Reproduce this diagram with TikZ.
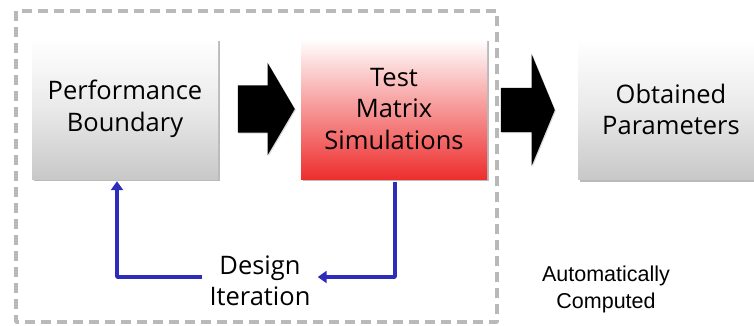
\documentclass[tikz,border=0pt]{standalone}
\usepackage{fontspec}
\setmainfont{Open Sans}
\newfontfamily\arialfont{Liberation Sans}
\usetikzlibrary{arrows.meta,shapes.arrows,shadows}
\definecolor{loopblue}{RGB}{45,45,185}
\definecolor{simred}{RGB}{238,46,46}
\definecolor{boxgray}{RGB}{200,200,200}
\definecolor{framegray}{RGB}{185,185,185}
\begin{document}
\begin{tikzpicture}[x=1pt, y=-1pt, line join=round,
		font=\fontsize{25.5}{31.5}\selectfont,
		stage/.style={minimum width=186pt, minimum height=140pt, align=center, inner sep=0pt,
			top color=white, bottom color=boxgray, middle color=boxgray!40,
			drop shadow={shadow xshift=1.5pt, shadow yshift=-2pt, opacity=0.45, fill=black!60}},
		simstage/.style={stage, middle color=simred!25, bottom color=simred},
		bigarrow/.style={single arrow, fill=black, inner xsep=0pt, anchor=tip,
			drop shadow={shadow xshift=1pt, shadow yshift=-1pt, opacity=0.3}},
		loop/.style={draw=loopblue, line width=3.5pt, -{Triangle[length=9pt,width=12pt]}},
		frame/.style={draw=framegray, line width=3.5pt, dash pattern=on 10pt off 6pt}]
	\useasboundingbox (0,0) rectangle (754,325);
	\draw[frame] (16,11) rectangle (497,322);
	% stages
	\node[stage] (perf) at (125,109) {Performance\\Boundary};
	\node[simstage] (test) at (394,109) {Test\\Matrix\\Simulations};
	\node[stage] (param) at (671,109.5) {Obtained\\Parameters};
	% big arrows
	\node[bigarrow, inner ysep=23.5pt, minimum height=57pt, single arrow head extend=22.5pt, single arrow tip angle=119] (flowA) at (295,109) {};
	\node[bigarrow, inner ysep=22pt, minimum height=54pt, single arrow head extend=33.5pt, single arrow tip angle=135] (flowB) at (555,110) {};
	% texts
	\node[align=center, inner xsep=7pt] (design) at (260,281) {Design\\Iteration};
	\node[align=center, font=\arialfont\fontsize{21.5}{27}\selectfont] (auto) at (606,289) {Automatically\\Computed};
	% design loop
	\coordinate (lx) at (117,277);
	\coordinate (rx) at (395,277);
	\draw[loop, shorten >=2pt] (lx -| design.west) -- (lx) -- (lx |- perf.south);
	\draw[loop, shorten <=3pt] (rx |- test.south) -- (rx) -- (rx -| design.east);
\end{tikzpicture}
\end{document}
